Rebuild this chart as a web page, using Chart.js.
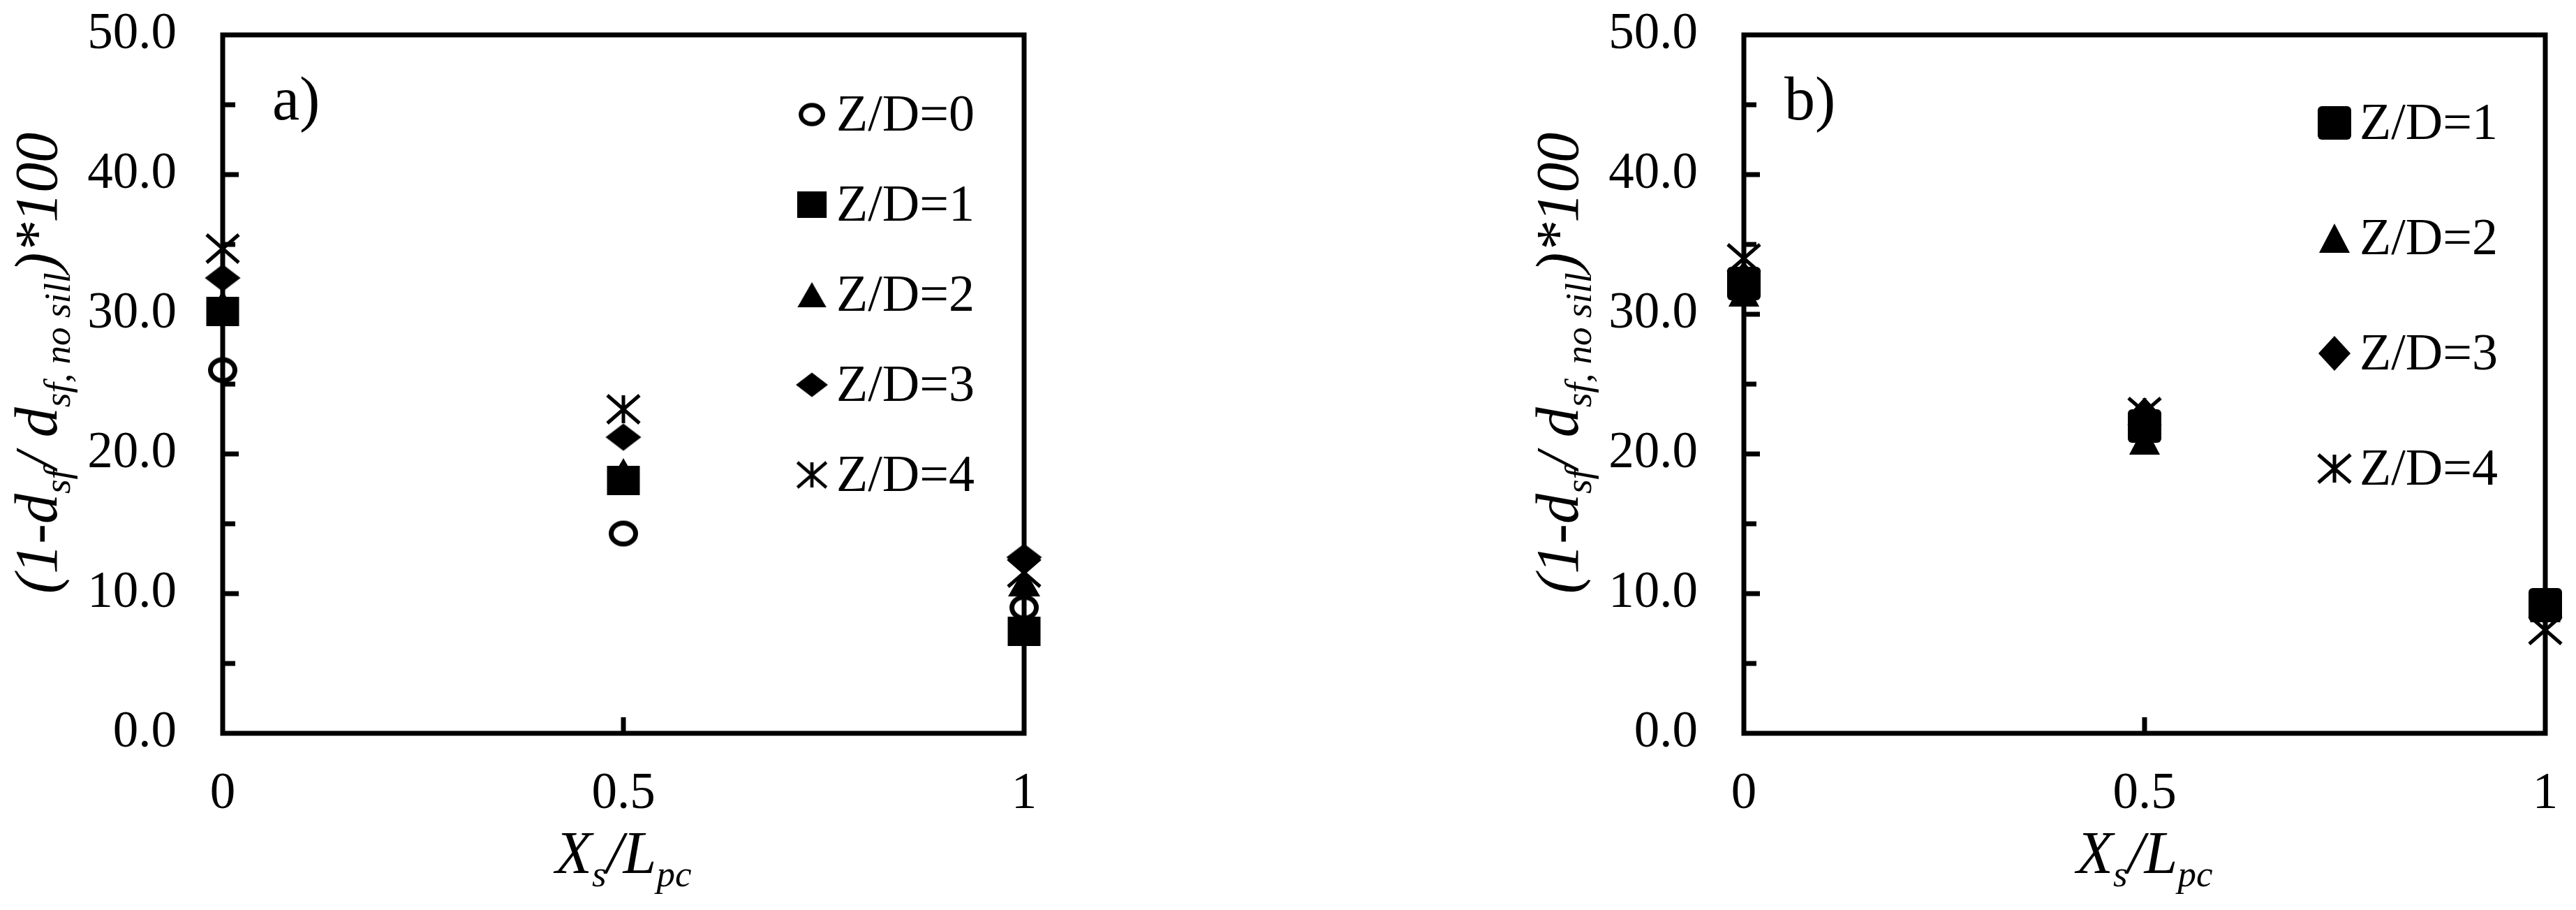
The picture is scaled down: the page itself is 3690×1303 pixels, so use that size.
<!DOCTYPE html>
<html>
<head>
<meta charset="utf-8">
<script src="https://cdn.jsdelivr.net/npm/chart.js@4.4.1/dist/chart.umd.min.js"></script>
<style>
    html, body { margin: 0; padding: 0; background: #fff; }
    body { width: 3690px; height: 1303px; position: relative; overflow: hidden; }
    .panel { position: absolute; top: 0; width: 1845px; height: 1303px; }
    #panelA { left: 0; }
    #panelB { left: 1845px; }
</style>
</head>
<body>
<div class="panel" id="panelA"><canvas id="chartA" width="1845" height="1303"></canvas></div>
<div class="panel" id="panelB"><canvas id="chartB" width="1845" height="1303"></canvas></div>
<script>
// Posições relativas (Xs/Lpc)
const xPositions = [0, 0.5, 1];

// Painel a)
const labelsA = ['Z/D=0', 'Z/D=1', 'Z/D=2', 'Z/D=3', 'Z/D=4'];
const zd0A = [26.0, 14.3, 9.0];
const zd1A = [30.2, 18.1, 7.3];
const zd2A = [30.7, 18.7, 10.8];
const zd3A = [32.6, 21.2, 12.6];
const zd4A = [34.7, 23.2, 11.5];

// Painel b)
const labelsB = ['Z/D=1', 'Z/D=2', 'Z/D=3', 'Z/D=4'];
const zd1B = [32.2, 22.0, 9.2];
const zd2B = [31.6, 21.0, 9.0];
const zd3B = [32.5, 22.8, 9.3];
const zd4B = [34.0, 23.0, 7.4];

const FONT = '"Liberation Serif", "Times New Roman", serif';

// Títulos dos eixos (texto com subscritos)
const xTitleParts = [['X', ''], ['s', 'sub'], ['/', ''], ['L', ''], ['pc', 'sub']];
const yTitleParts = [['(1-d', ''], ['sf', 'sub'], ['/ d', ''], ['sf, no sill', 'sub'], [')*100', '']];

// Marcadores desenhados num canvas pequeno
function makeMarker(shape, w, h, round) {
    const lw = shape === 'circle' ? 7 : 5;
    const pad = 4;
    const c = document.createElement('canvas');
    c.width = Math.ceil(w + pad * 2);
    c.height = Math.ceil(h + pad * 2);
    const g = c.getContext('2d');
    const cx = c.width / 2, cy = c.height / 2;
    g.fillStyle = '#000';
    g.strokeStyle = '#000';
    g.beginPath();
    if (shape === 'circle') {
        g.lineWidth = lw;
        g.ellipse(cx, cy, w / 2 - lw / 2, h / 2 - lw / 2, 0, 0, Math.PI * 2);
        g.stroke();
    } else if (shape === 'square') {
        if (round) g.roundRect(cx - w / 2, cy - h / 2, w, h, round);
        else g.rect(cx - w / 2, cy - h / 2, w, h);
        g.fill();
    } else if (shape === 'triangle') {
        g.moveTo(cx, cy - h / 2);
        g.lineTo(cx + w / 2, cy + h / 2);
        g.lineTo(cx - w / 2, cy + h / 2);
        g.closePath();
        g.fill();
    } else if (shape === 'diamond') {
        g.moveTo(cx, cy - h / 2);
        g.lineTo(cx + w / 2, cy);
        g.lineTo(cx, cy + h / 2);
        g.lineTo(cx - w / 2, cy);
        g.closePath();
        g.fill();
    } else if (shape === 'asterisk') {
        g.lineWidth = lw;
        g.moveTo(cx - w / 2, cy - h / 2); g.lineTo(cx + w / 2, cy + h / 2);
        g.moveTo(cx + w / 2, cy - h / 2); g.lineTo(cx - w / 2, cy + h / 2);
        g.moveTo(cx, cy - h / 2); g.lineTo(cx, cy + h / 2);
        g.stroke();
    }
    return c;
}

const markersA = [
    makeMarker('circle', 42, 37),
    makeMarker('square', 47, 42),
    makeMarker('triangle', 46, 40),
    makeMarker('diamond', 51, 39),
    makeMarker('asterisk', 46, 40)
];
const markersB = [
    makeMarker('square', 48, 48, 6),
    makeMarker('triangle', 44, 42),
    makeMarker('diamond', 46, 50),
    makeMarker('asterisk', 46, 40)
];

function buildDatasets(labels, series, markers) {
    return labels.map((label, i) => ({
        label: label,
        data: xPositions.map((x, j) => ({ x: x, y: series[i][j] })),
        pointStyle: markers[i],
        pointRadius: 22,
        showLine: false,
        clip: false
    }));
}

function drawRich(ctx, parts, x, y, size) {
    const subSize = Math.round(size * 0.62);
    const fontOf = p => 'italic ' + (p[1] === 'sub' ? subSize : size) + 'px ' + FONT;
    let total = 0;
    parts.forEach(p => { ctx.font = fontOf(p); total += ctx.measureText(p[0]).width; });
    let cx = x - total / 2;
    ctx.textAlign = 'left';
    ctx.textBaseline = 'alphabetic';
    parts.forEach(p => {
        ctx.font = fontOf(p);
        ctx.fillText(p[0], cx, y + (p[1] === 'sub' ? size * 0.22 : 0));
        cx += ctx.measureText(p[0]).width;
    });
}

// Moldura e marcas de escala viradas para dentro
const framePlugin = {
    id: 'frame',
    beforeDatasetsDraw(chart) {
        const { ctx, chartArea: a, scales } = chart;
        ctx.save();
        ctx.strokeStyle = '#000';
        ctx.lineWidth = 7;
        ctx.strokeRect(a.left, a.top, a.right - a.left, a.bottom - a.top);
        scales.y.ticks.forEach(t => {
            if (t.value <= 0 || t.value >= 50) return;
            const py = scales.y.getPixelForValue(t.value);
            const len = t.value % 10 === 0 ? 23 : 18;
            ctx.beginPath();
            ctx.moveTo(a.left, py);
            ctx.lineTo(a.left + len, py);
            ctx.stroke();
        });
        scales.x.ticks.forEach(t => {
            if (t.value <= 0 || t.value >= 1) return;
            const px = scales.x.getPixelForValue(t.value);
            ctx.beginPath();
            ctx.moveTo(px, a.bottom);
            ctx.lineTo(px, a.bottom - 23);
            ctx.stroke();
        });
        ctx.restore();
    }
};

// Títulos, etiqueta do painel e legenda
function panelPlugin(cfg) {
    return {
        id: 'panelText',
        afterDraw(chart) {
            const { ctx, chartArea: a } = chart;
            ctx.save();
            ctx.fillStyle = '#000';
            ctx.font = '88px ' + FONT;
            ctx.textAlign = 'left';
            ctx.textBaseline = 'alphabetic';
            ctx.fillText(cfg.tag, a.left + cfg.tagDx, a.top + 121);

            drawRich(ctx, xTitleParts, (a.left + a.right) / 2, a.bottom + 200, 86);

            ctx.save();
            ctx.translate(a.left - 238, (a.top + a.bottom) / 2 - 30);
            ctx.rotate(-Math.PI / 2);
            drawRich(ctx, yTitleParts, 0, 0, 86);
            ctx.restore();

            chart.data.datasets.forEach((ds, i) => {
                const y = cfg.legendY + i * cfg.legendStep;
                const img = ds.pointStyle;
                const s = cfg.legendScale;
                ctx.drawImage(img, cfg.legendX - img.width * s / 2, y - img.height * s / 2,
                    img.width * s, img.height * s);
                ctx.font = '74px ' + FONT;
                ctx.textAlign = 'left';
                ctx.fillText(ds.label, cfg.legendTextX, y + 23);
            });
            ctx.restore();
        }
    };
}

// Sem folgas automáticas: a área do gráfico fica onde queremos
function noPadding(s) {
    s.paddingTop = 0;
    s.paddingBottom = 0;
    s.paddingLeft = 0;
    s.paddingRight = 0;
}

function makeChart(canvasId, datasets, areaLeft, padRight, cfg) {
    return new Chart(document.getElementById(canvasId), {
        type: 'scatter',
        data: { datasets: datasets },
        options: {
            responsive: false,
            animation: false,
            devicePixelRatio: 1,
            layout: { padding: { top: 50, right: padRight, left: 0, bottom: 0 } },
            plugins: { legend: { display: false }, tooltip: { enabled: false } },
            scales: {
                x: {
                    type: 'linear',
                    min: 0,
                    max: 1,
                    grid: { display: false, drawTicks: false },
                    border: { display: false },
                    ticks: {
                        stepSize: 0.5,
                        padding: 44,
                        color: '#000',
                        font: { family: FONT, size: 73 },
                        callback: v => String(v)
                    },
                    afterFit: s => { s.height = 253; noPadding(s); }
                },
                y: {
                    min: 0,
                    max: 50,
                    grid: { display: false, drawTicks: false },
                    border: { display: false },
                    ticks: {
                        stepSize: 5,
                        autoSkip: false,
                        padding: 66,
                        color: '#000',
                        font: { family: FONT, size: 73 },
                        callback: v => (v % 10 === 0 ? v.toFixed(1) : '')
                    },
                    afterFit: s => { s.width = areaLeft; noPadding(s); }
                }
            }
        },
        plugins: [framePlugin, panelPlugin(cfg)]
    });
}

makeChart('chartA', buildDatasets(labelsA, [zd0A, zd1A, zd2A, zd3A, zd4A], markersA), 319, 378, {
    tag: 'a)', tagDx: 71,
    legendX: 1163, legendTextX: 1198, legendY: 164, legendStep: 129, legendScale: 0.9
});

makeChart('chartB', buildDatasets(labelsB, [zd1B, zd2B, zd3B, zd4B], markersB), 653, 44, {
    tag: 'b)', tagDx: 58,
    legendX: 1499, legendTextX: 1535, legendY: 176, legendStep: 165, legendScale: 1.0
});
</script>
</body>
</html>
